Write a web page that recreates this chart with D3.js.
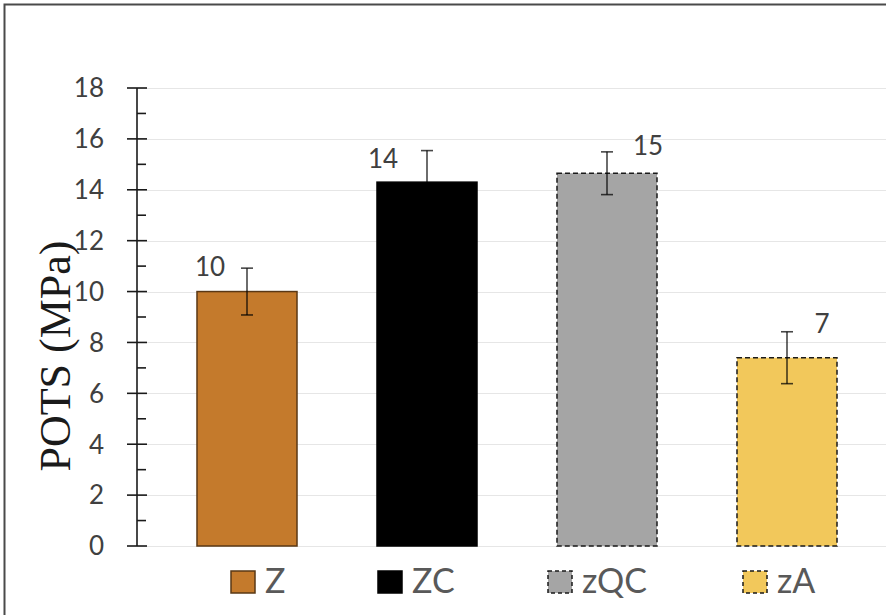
<!DOCTYPE html>
<html>
<head>
<meta charset="utf-8">
<script src="https://cdn.jsdelivr.net/npm/d3@7"></script>
<style>
  html, body { margin: 0; padding: 0; background: #fff; }
  svg { display: block; }
</style>
</head>
<body>
<svg id="chart" width="886" height="615"></svg>
<script>
// Samples and measured POTS (MPa) with their error (±)
const categories = ["Z", "ZC", "zQC", "zA"];
const values = [10.0, 14.3, 14.65, 7.4];
const errors = [0.92, 1.24, 0.84, 1.02];
const yTicks = [0, 2, 4, 6, 8, 10, 12, 14, 16, 18];

// Appearance of each sample
const fills = ["#C47A2C", "#000000", "#A5A5A5", "#F2C85B"];
const strokes = ["#5A3815", "#000000", "#1A1A1A", "#1A1A1A"];
const dashed = [false, false, true, true];
// value-label placement relative to bar centre / bar top
const labelShift = [[-37, -16], [-44, -14], [41, -18], [35, -25]];

const svg = d3.select("#chart");
const W = 886, H = 615;
const plot = { left: 137, right: 917, top: 88, bottom: 546 };

// outer frame (runs off the right and bottom edges)
svg.append("rect")
  .attr("x", 4.5).attr("y", 4.5)
  .attr("width", 920).attr("height", 640)
  .attr("fill", "#fff")
  .attr("stroke", "#4a4a4a").attr("stroke-width", 2);

const y = d3.scaleLinear().domain([0, 18]).range([plot.bottom, plot.top]);
const x = d3.scaleBand().domain(categories)
  .range([157, 877]).paddingInner(0.4444).paddingOuter(0.2222);

// horizontal gridlines
svg.append("g").selectAll("line").data(yTicks).join("line")
  .attr("x1", plot.left).attr("x2", W)
  .attr("y1", d => Math.round(y(d)) + 0.5).attr("y2", d => Math.round(y(d)) + 0.5)
  .attr("stroke", "#E6E6E6").attr("stroke-width", 1.2);

// bars
const bars = svg.append("g");
categories.forEach((c, i) => {
  bars.append("rect")
    .attr("x", x(c)).attr("width", x.bandwidth())
    .attr("y", y(values[i])).attr("height", y(0) - y(values[i]))
    .attr("fill", fills[i])
    .attr("stroke", strokes[i]).attr("stroke-width", 1.5)
    .attr("stroke-dasharray", dashed[i] ? "5,3" : null);
});

// error bars
const eb = svg.append("g").attr("stroke", "#000").attr("stroke-opacity", 0.72)
  .attr("stroke-width", 1.6);
categories.forEach((c, i) => {
  const cx = x(c) + x.bandwidth() / 2;
  const y1 = y(values[i] + errors[i]), y2 = y(values[i] - errors[i]);
  eb.append("line").attr("x1", cx).attr("x2", cx).attr("y1", y1).attr("y2", y2);
  eb.append("line").attr("x1", cx - 6).attr("x2", cx + 6).attr("y1", y1).attr("y2", y1);
  eb.append("line").attr("x1", cx - 6).attr("x2", cx + 6).attr("y1", y2).attr("y2", y2);
});

// value labels
const fmt = d3.format(".0f");
svg.append("g").selectAll("text").data(categories).join("text")
  .attr("x", (c, i) => x(c) + x.bandwidth() / 2 + labelShift[i][0])
  .attr("y", (c, i) => y(values[i]) + labelShift[i][1])
  .attr("text-anchor", "middle")
  .attr("font-family", "Lato, 'Open Sans', sans-serif")
  .attr("font-size", 26)
  .attr("fill", "#404040")
  .text((c, i) => fmt(values[i]));

// y axis with major and minor ticks
const axis = svg.append("g").attr("stroke", "#1a1a1a").attr("stroke-width", 1.6);
axis.append("line").attr("x1", plot.left).attr("x2", plot.left)
  .attr("y1", y(18)).attr("y2", y(0));
yTicks.forEach(t => {
  axis.append("line").attr("x1", plot.left - 10).attr("x2", plot.left + 10)
    .attr("y1", y(t)).attr("y2", y(t));
});
d3.range(1, 18, 2).forEach(t => {
  axis.append("line").attr("x1", plot.left).attr("x2", plot.left + 9)
    .attr("y1", y(t)).attr("y2", y(t));
});
svg.append("g").selectAll("text").data(yTicks).join("text")
  .attr("x", 104).attr("y", d => y(d))
  .attr("dy", "0.36em")
  .attr("text-anchor", "end")
  .attr("font-family", "Lato, 'Open Sans', sans-serif")
  .attr("font-size", 26)
  .attr("fill", "#404040")
  .text(d => d);

// y axis title
svg.append("text")
  .attr("transform", "translate(70,356) rotate(-90)")
  .attr("text-anchor", "middle")
  .attr("font-family", "'Liberation Serif', 'Times New Roman', serif")
  .attr("font-size", 44)
  .attr("fill", "#1a1a1a")
  .text("POTS (MPa)");

// legend
const legendX = [231, 378, 548, 743];
const lg = svg.append("g");
categories.forEach((c, i) => {
  lg.append("rect")
    .attr("x", legendX[i]).attr("y", 571)
    .attr("width", 24).attr("height", 22)
    .attr("fill", fills[i])
    .attr("stroke", strokes[i]).attr("stroke-width", 1.5)
    .attr("stroke-dasharray", dashed[i] ? "4,3" : null);
  lg.append("text")
    .attr("x", legendX[i] + 34).attr("y", 593)
    .attr("font-family", "Lato, 'Open Sans', sans-serif")
    .attr("font-size", 34)
    .attr("fill", "#595959")
    .text(c);
});
</script>
</body>
</html>
